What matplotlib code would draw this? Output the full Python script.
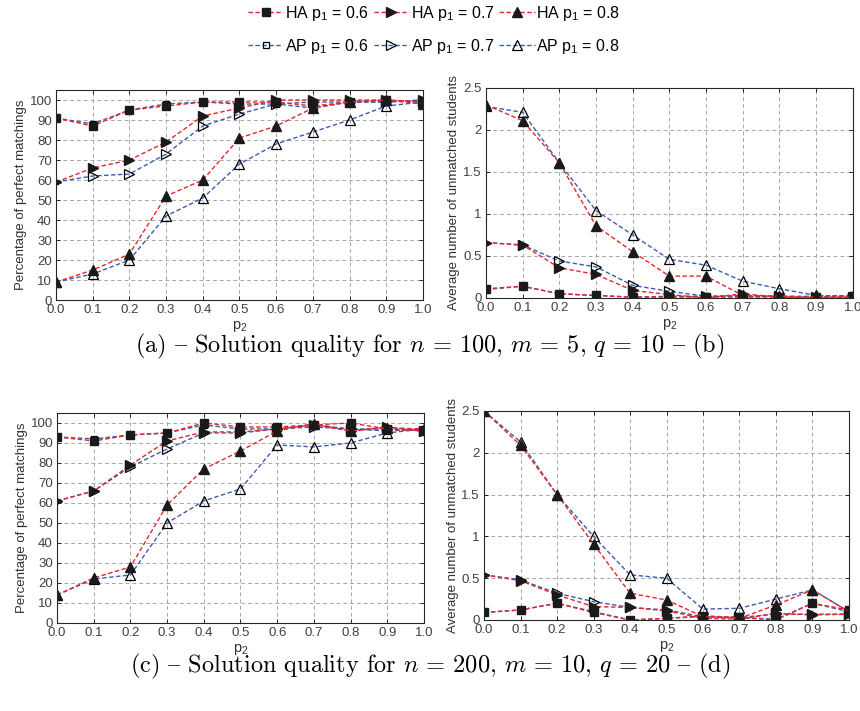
import matplotlib
matplotlib.use("Agg")
import matplotlib.pyplot as plt
from matplotlib.lines import Line2D

plt.rcParams['font.family'] = ['Liberation Sans', 'DejaVu Sans']
plt.rcParams['mathtext.fontset'] = 'custom'
plt.rcParams['mathtext.rm'] = 'Liberation Sans'
plt.rcParams['mathtext.it'] = 'Liberation Sans:italic'

# valores de p2
p2 = [0.0, 0.1, 0.2, 0.3, 0.4, 0.5, 0.6, 0.7, 0.8, 0.9, 1.0]
x_labels = ["0.0", "0.1", "0.2", "0.3", "0.4", "0.5", "0.6", "0.7", "0.8", "0.9", "1.0"]

# (a) n=100: percentagem de emparelhamentos perfeitos
a_ha06 = [91, 87, 95, 97, 99, 99, 99, 97, 99, 100, 99]
a_ap06 = [91, 88, 95, 98, 99, 98, 98, 96, 99, 99, 100]
a_ha07 = [59, 66, 70, 79, 92, 96, 100, 100, 100, 100, 99]
a_ap07 = [59, 62, 63, 73, 87, 93, 98, 99, 99, 99, 100]
a_ha08 = [9, 15, 23, 52, 60, 81, 87, 96, 99, 100, 98]
a_ap08 = [9, 13, 20, 42, 51, 68, 78, 84, 90, 97, 99]

# (b) n=100: media de estudantes sem par
b_ha06 = [0.11, 0.14, 0.05, 0.03, 0.01, 0.01, 0.01, 0.01, 0.01, 0.01, 0.02]
b_ap06 = [0.10, 0.14, 0.05, 0.03, 0.01, 0.02, 0.02, 0.02, 0.02, 0.02, 0.03]
b_ha07 = [0.66, 0.63, 0.36, 0.28, 0.09, 0.04, 0.00, 0.05, 0.01, 0.00, 0.00]
b_ap07 = [0.66, 0.63, 0.44, 0.37, 0.15, 0.08, 0.02, 0.03, 0.02, 0.01, 0.01]
b_ha08 = [2.30, 2.11, 1.61, 0.86, 0.55, 0.26, 0.26, 0.03, 0.02, 0.01, 0.01]
b_ap08 = [2.28, 2.21, 1.61, 1.04, 0.75, 0.46, 0.39, 0.20, 0.11, 0.03, 0.02]

# (c) n=200
c_ha06 = [93, 91, 94, 95, 100, 98, 98, 99, 100, 97, 96]
c_ap06 = [93, 92, 94, 95, 99, 97, 97, 99, 97, 96, 97]
c_ha07 = [61, 66, 79, 91, 95.5, 95.5, 97, 99, 96, 98, 96]
c_ap07 = [61, 66, 78, 87, 95, 95, 97, 98, 97, 97, 96]
c_ha08 = [14, 22.5, 28, 59, 77, 86, 96, 99.7, 96, 97.5, 97]
c_ap08 = [14, 22, 24, 50, 61, 67, 89, 88, 90, 95, 97]

# (d) n=200
d_ha06 = [0.09, 0.12, 0.20, 0.09, 0.00, 0.02, 0.05, 0.03, 0.00, 0.20, 0.12]
d_ap06 = [0.09, 0.12, 0.20, 0.10, 0.00, 0.02, 0.04, 0.03, 0.01, 0.20, 0.10]
d_ha07 = [0.54, 0.47, 0.30, 0.16, 0.15, 0.11, 0.02, 0.01, 0.08, 0.06, 0.07]
d_ap07 = [0.54, 0.48, 0.32, 0.22, 0.15, 0.12, 0.04, 0.03, 0.07, 0.07, 0.07]
d_ha08 = [2.50, 2.09, 1.50, 0.91, 0.32, 0.24, 0.04, 0.02, 0.18, 0.36, 0.10]
d_ap08 = [2.50, 2.13, 1.50, 1.00, 0.54, 0.50, 0.13, 0.14, 0.25, 0.36, 0.10]

red = '#e8262a'
blue = '#3b5cb4'
ink = '#262626'
dash = (0, (3.2, 1.8))


def draw_panel(ax, series, ylim, yticks, yticklabels, ylabel):
    ha06, ap06, ha07, ap07, ha08, ap08 = series
    # linhas AP primeiro, HA por cima
    ax.plot(p2, ap06, color=blue, ls=dash, lw=1.0, marker='s', ms=5, mfc='none', mec='k', mew=0.9)
    ax.plot(p2, ap07, color=blue, ls=dash, lw=1.0, marker='>', ms=7, mfc='none', mec='k', mew=0.9)
    ax.plot(p2, ap08, color=blue, ls=dash, lw=1.0, marker='^', ms=7, mfc='none', mec='k', mew=0.9)
    ax.plot(p2, ha06, color=red, ls=dash, lw=1.0, marker='s', ms=5.5, mfc='#1a1a1a', mec='#1a1a1a')
    ax.plot(p2, ha07, color=red, ls=dash, lw=1.0, marker='>', ms=7.5, mfc='#1a1a1a', mec='#1a1a1a')
    ax.plot(p2, ha08, color=red, ls=dash, lw=1.0, marker='^', ms=7.5, mfc='#1a1a1a', mec='#1a1a1a')
    ax.set_xlim(0, 1)
    ax.set_ylim(*ylim)
    ax.set_xticks(p2)
    ax.set_xticklabels(x_labels)
    ax.set_yticks(yticks)
    ax.set_yticklabels(yticklabels)
    ax.grid(True, ls=(0, (4, 3)), color='#a8a8a8', lw=0.7)
    ax.set_axisbelow(True)
    ax.tick_params(direction='in', length=3, width=0.7, colors=ink, labelcolor='#404040',
                   labelsize=9.5, top=True, right=True, pad=3)
    for s in ax.spines.values():
        s.set_color(ink)
        s.set_linewidth(0.8)
    ax.set_xlabel('p$_2$', fontsize=10.5, color='#303030', labelpad=2)
    ax.set_ylabel(ylabel, fontsize=9.5, color='#303030', labelpad=2)


fig = plt.figure(figsize=(8.6, 7.11), dpi=100)
ax_a = fig.add_axes([0.0651, 0.578, 0.4267, 0.2954])
ax_b = fig.add_axes([0.565, 0.5809, 0.4267, 0.2954])
ax_c = fig.add_axes([0.0663, 0.1238, 0.4267, 0.2954])
ax_d = fig.add_axes([0.5628, 0.128, 0.4244, 0.294])

pct_ticks = list(range(0, 101, 10))
pct_labels = [str(t) for t in pct_ticks]
avg_ticks = [0, 0.5, 1, 1.5, 2, 2.5]
avg_labels = ["0", "0.5", "1", "1.5", "2", "2.5"]

draw_panel(ax_a, [a_ha06, a_ap06, a_ha07, a_ap07, a_ha08, a_ap08], (0, 105),
           pct_ticks, pct_labels, 'Percentage of perfect matchings')
draw_panel(ax_b, [b_ha06, b_ap06, b_ha07, b_ap07, b_ha08, b_ap08], (0, 2.5),
           avg_ticks, avg_labels, 'Average number of unmatched students')
draw_panel(ax_c, [c_ha06, c_ap06, c_ha07, c_ap07, c_ha08, c_ap08], (0, 105),
           pct_ticks, pct_labels, 'Percentage of perfect matchings')
draw_panel(ax_d, [d_ha06, d_ap06, d_ha07, d_ap07, d_ha08, d_ap08], (0, 2.5),
           avg_ticks, avg_labels, 'Average number of unmatched students')

# legenda
handles = [
    Line2D([], [], color=red, ls=dash, lw=1.0, marker='s', ms=5.5, mfc='#1a1a1a', mec='#1a1a1a'),
    Line2D([], [], color=blue, ls=dash, lw=1.0, marker='s', ms=5, mfc='none', mec='k', mew=0.9),
    Line2D([], [], color=red, ls=dash, lw=1.0, marker='>', ms=7.5, mfc='#1a1a1a', mec='#1a1a1a'),
    Line2D([], [], color=blue, ls=dash, lw=1.0, marker='>', ms=7, mfc='none', mec='k', mew=0.9),
    Line2D([], [], color=red, ls=dash, lw=1.0, marker='^', ms=7.5, mfc='#1a1a1a', mec='#1a1a1a'),
    Line2D([], [], color=blue, ls=dash, lw=1.0, marker='^', ms=7, mfc='none', mec='k', mew=0.9),
]
labels = ['HA p$_1$ = 0.6', 'AP p$_1$ = 0.6', 'HA p$_1$ = 0.7',
          'AP p$_1$ = 0.7', 'HA p$_1$ = 0.8', 'AP p$_1$ = 0.8']
fig.legend(handles, labels, ncol=3, loc='center', bbox_to_anchor=(0.505, 0.958),
           frameon=False, fontsize=11.5, handlelength=2.2, handletextpad=0.1,
           columnspacing=0.3, labelspacing=0.85)

# legendas das figuras (en dash = '{' na codificacao do cmr10)
cap_font = ['cmr10', 'DejaVu Serif']
fig.text(0.5, 0.513, '(a) { Solution quality for $n$ = 100, $m$ = 5, $q$ = 10 { (b)',
         ha='center', va='center', fontsize=17.5, family=cap_font, math_fontfamily='cm')
fig.text(0.5, 0.063, '(c) { Solution quality for $n$ = 200, $m$ = 10, $q$ = 20 { (d)',
         ha='center', va='center', fontsize=17.5, family=cap_font, math_fontfamily='cm')

fig.savefig('out.png', dpi=100)
